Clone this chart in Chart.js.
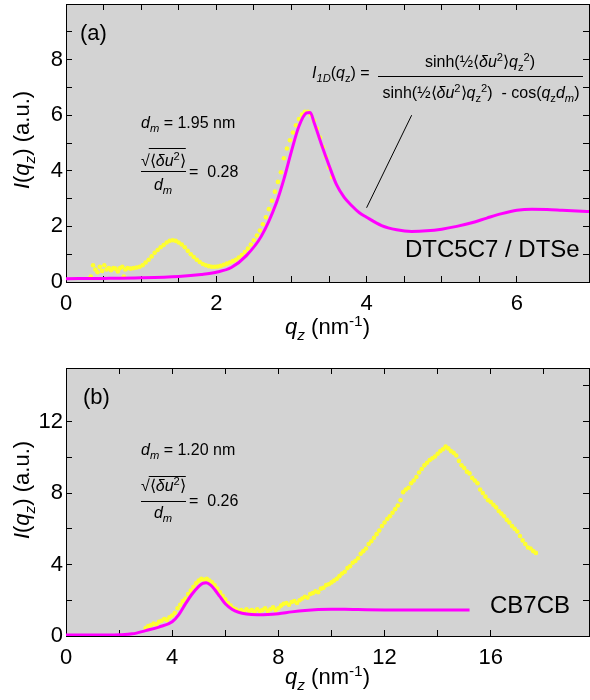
<!DOCTYPE html>
<html><head><meta charset="utf-8">
<script src="https://cdn.jsdelivr.net/npm/chart.js@4.4.0/dist/chart.umd.min.js"></script>
<style>
html,body{margin:0;padding:0;background:#fff;}
canvas{display:block;}
</style></head><body>
<canvas id="ca" width="590" height="350"></canvas>
<canvas id="cb" width="590" height="350"></canvas>
<script>
// ---------- Panel (a) data : DTC5C7 / DTSe ----------
const qA_fit = [0,0.5,1.0,1.5,1.8,2.0,2.2,2.4,2.6,2.8,2.9,3.0,3.1,3.2,3.25,3.3,3.4,3.5,3.6,3.7,3.8,3.9,4.0,4.2,4.4,4.6,4.8,5.0,5.2,5.4,5.6,5.8,6.0,6.2,6.4,6.6,6.8,7.0];
const IA_fit = [0.12,0.13,0.15,0.2,0.27,0.35,0.52,0.95,1.65,2.85,3.7,4.7,5.6,6.08,6.1,5.75,4.95,4.2,3.5,3.05,2.75,2.5,2.33,2.03,1.88,1.82,1.84,1.9,2.0,2.13,2.3,2.46,2.58,2.62,2.61,2.58,2.55,2.53];
const qA_dat = [0.33,0.36,0.39,0.42,0.45,0.48,0.51,0.54,0.57,0.60,0.63,0.66,0.69,0.72,0.75,0.77,0.79,0.82,0.86,0.90,0.94,0.98,1.02,1.06,1.10,1.14,1.18,1.22,1.26,1.30,1.34,1.38,1.42,1.46,1.50,1.54,1.58,1.62,1.66,1.70,1.74,1.78,1.82,1.86,1.90,1.94,1.98,2.02,2.06,2.10,2.14,2.18,2.22,2.26,2.30,2.34,2.38,2.42,2.46,2.50,2.54,2.58,2.62,2.66,2.70,2.74,2.78,2.82,2.86,2.90,2.94,2.98,3.02,3.06,3.10,3.14,3.18,3.22,3.26,3.30,3.34,3.38,3.42,3.46,3.50,3.54];
const IA_dat = [0.2,0.6,0.45,0.35,0.55,0.4,0.6,0.45,0.5,0.42,0.5,0.48,0.38,0.5,0.55,0.2,0.45,0.5,0.48,0.5,0.52,0.55,0.6,0.7,0.8,0.92,1.05,1.15,1.25,1.33,1.42,1.48,1.5,1.48,1.42,1.35,1.25,1.12,1.0,0.9,0.8,0.72,0.65,0.6,0.57,0.55,0.55,0.56,0.58,0.62,0.66,0.7,0.75,0.8,0.88,0.97,1.08,1.2,1.35,1.5,1.67,1.85,2.08,2.33,2.62,2.92,3.25,3.6,3.95,4.45,4.8,5.1,5.38,5.64,5.86,6.02,6.12,6.12,6.0,5.8,5.52,5.2,4.85,4.5,4.12,3.78];
const xTicksA = [0,2,4,6];
const yTicksA = [0,2,4,6,8];

// ---------- Panel (b) data : CB7CB ----------
const qB_fit = [0,1,2,2.5,3.0,3.5,4.0,4.25,4.5,4.75,5.0,5.15,5.28,5.45,5.6,5.8,6.0,6.25,6.5,6.8,7.2,7.6,8.0,8.5,9.0,9.5,10.0,10.5,11,12,13,14,15.2];
const IB_fit = [0.05,0.05,0.07,0.12,0.3,0.5,0.8,1.2,1.8,2.35,2.78,2.95,2.98,2.85,2.6,2.2,1.8,1.5,1.33,1.23,1.19,1.2,1.25,1.35,1.43,1.48,1.5,1.5,1.48,1.46,1.46,1.46,1.46];
const qB_dat = [3.0,3.1,3.2,3.3,3.4,3.5,3.6,3.7,3.8,3.9,4.0,4.1,4.2,4.3,4.4,4.5,4.6,4.7,4.8,4.9,5.0,5.1,5.2,5.3,5.4,5.5,5.6,5.7,5.8,5.9,6.0,6.1,6.2,6.3,6.4,6.5,6.6,6.7,6.8,6.9,7.0,7.1,7.2,7.3,7.4,7.5,7.6,7.7,7.8,7.9,8.0,8.1,8.2,8.3,8.4,8.5,8.6,8.7,8.8,8.9,9.0,9.1,9.2,9.3,9.4,9.5,9.6,9.7,9.8,9.9,10.0,10.1,10.2,10.3,10.4,10.5,10.6,10.7,10.8,10.9,11.0,11.1,11.2,11.3,11.4,11.5,11.6,11.7,11.8,11.9,12.0,12.1,12.2,12.3,12.4,12.5,12.6,12.7,12.8,12.9,13.0,13.1,13.2,13.3,13.4,13.5,13.6,13.7,13.8,13.9,14.0,14.1,14.2,14.3,14.4,14.5,14.6,14.7,14.8,14.9,15.0,15.1,15.2,15.3,15.4,15.5,15.6,15.7,15.8,15.9,16.0,16.1,16.2,16.3,16.4,16.5,16.6,16.7,16.8,16.9,17.0,17.1,17.2,17.3,17.4,17.5,17.6,17.7];
const IB_dat = [0.45,0.55,0.6,0.7,0.65,0.8,0.85,0.95,0.9,1.05,1.15,1.3,1.55,1.75,1.95,2.1,2.35,2.55,2.75,2.95,3.1,3.2,3.15,3.2,3.1,3.0,2.85,2.65,2.45,2.25,2.05,1.85,1.7,1.55,1.5,1.4,1.45,1.35,1.5,1.4,1.45,1.35,1.5,1.4,1.45,1.55,1.4,1.5,1.6,1.45,1.55,1.7,1.8,1.85,1.75,1.9,1.95,1.85,2.0,2.1,2.2,2.15,2.35,2.4,2.5,2.45,2.65,2.7,2.85,2.9,3.0,3.1,3.2,3.35,3.5,3.6,3.8,3.9,4.1,4.2,4.35,4.6,4.75,4.9,5.15,5.3,5.5,5.7,5.9,6.15,6.35,6.55,6.7,6.9,7.1,7.3,7.6,8.05,8.2,8.3,8.55,8.7,8.9,9.15,9.35,9.55,9.7,9.85,9.95,10.05,10.2,10.35,10.45,10.6,10.5,10.35,10.25,10.1,9.8,9.55,9.4,9.2,9.1,8.85,8.7,8.55,8.2,8.0,7.8,7.6,7.5,7.35,7.2,7.0,6.85,6.7,6.5,6.35,6.15,6.0,5.85,5.6,5.35,5.15,4.95,4.9,4.75,4.65];
const xTicksB = [0,4,8,12,16];
const yTicksB = [0,4,8,12];

const FONT = '"Liberation Sans", Arial, Helvetica, sans-serif';
const GRAY = '#d3d3d3', MAGENTA = '#ff00ff', YELLOW = '#ffff2e';

function pts(xs, ys){ return xs.map((x,i)=>({x:x, y:ys[i]})); }

function segFont(s, size){ const sz=(s.sub||s.sup)?size*0.7:size; return (s.it?'italic ':'')+sz+'px '+FONT; }
function richWidth(ctx, segs, size){ let w=0; for(const s of segs){ ctx.font=segFont(s,size); w+=ctx.measureText(s.t).width; } return w; }
function drawRich(ctx, segs, x, y, size, align){
  const w=richWidth(ctx,segs,size);
  let cx = align==='center'? x-w/2 : (align==='right'? x-w : x);
  const x0=cx;
  ctx.textAlign='left'; ctx.textBaseline='alphabetic'; ctx.fillStyle='#000';
  for(const s of segs){ ctx.font=segFont(s,size); const dy=s.sub?size*0.25:(s.sup?-size*0.38:0); ctx.fillText(s.t,cx,y+dy); cx+=ctx.measureText(s.t).width; }
  return {x0:x0, w:w};
}
function seg(ctx,x1,y1,x2,y2){ ctx.beginPath(); ctx.moveTo(x1,y1); ctx.lineTo(x2,y2); ctx.strokeStyle='#000'; ctx.lineWidth=1; ctx.setLineDash([]); ctx.stroke(); }
function hbar(ctx,x1,x2,y){ ctx.fillStyle='#000'; ctx.fillRect(Math.min(x1,x2),y,Math.abs(x2-x1),1); }

const T_X = [{t:'q',it:1},{t:'z',it:1,sub:1},{t:' (nm'},{t:'-1',sup:1},{t:')'}];
const T_Y = [{t:'I',it:1},{t:'('},{t:'q',it:1},{t:'z',it:1,sub:1},{t:') (a.u.)'}];

function drawParams(ctx, dmText, ratioText, yDm, yOver, yNum, yBar, yVal, yDen){
  drawRich(ctx,[{t:'d',it:1},{t:'m',it:1,sub:1},{t:' = '+dmText}],141,yDm,16,'left');
  const r=drawRich(ctx,[{t:'√'},{t:'⟨'},{t:'δu',it:1},{t:'2',sup:1},{t:'⟩'}],141,yNum,16,'left');
  ctx.font='16px '+FONT; const sw=ctx.measureText('√').width;
  hbar(ctx,141+sw-1,r.x0+r.w,yOver);
  hbar(ctx,141,186,yBar);
  drawRich(ctx,[{t:'d',it:1},{t:'m',it:1,sub:1}],163,yDen,16,'center');
  drawRich(ctx,[{t:'=  '+ratioText}],189,yVal,16,'left');
}

function framePlugin(extra){
  return {
    id:'panelframe',
    beforeDraw(chart){
      const a=chart.chartArea, c=chart.ctx;
      c.save(); c.fillStyle=GRAY; c.fillRect(a.left,a.top,a.right-a.left,a.bottom-a.top); c.restore();
    },
    afterDraw(chart){
      const a=chart.chartArea, c=chart.ctx, xs=chart.scales.x, ys=chart.scales.y;
      c.save();
      drawRich(c,T_X,(a.left+a.right)/2,334,22,'center');
      c.save(); c.translate(29,140); c.rotate(-Math.PI/2); drawRich(c,T_Y,0,0,22,'center'); c.restore();
      extra(chart,c,a,xs,ys);
      c.restore();
    }
  };
}

// frame = axis borders on all four sides, with inward tick marks (negative tick length)
const GRID = {display:true,drawOnChartArea:false,drawTicks:true,tickLength:-6,color:'#000',tickColor:'#000',tickWidth:1,lineWidth:1};
const BORDER = {display:true,color:'#000',width:1};

function makeOptions(xmax, ymax, xstep, ystep, xLab, yLab, padTop, xH){
  return {
    responsive:false, animation:false, devicePixelRatio:1,
    layout:{autoPadding:false, padding:{top:padTop,right:1,left:0,bottom:0}},
    plugins:{legend:{display:false}, tooltip:{enabled:false}},
    scales:{
      x:{type:'linear',position:'bottom',min:0,max:xmax,grid:GRID,border:BORDER,
         ticks:{stepSize:xstep,autoSkip:false,maxRotation:0,padding:15,color:'#000',font:{size:22,family:FONT},
                callback:(v)=> xLab.includes(v)? String(v):''},
         afterFit:(s)=>{s.height=xH; s.paddingLeft=0; s.paddingRight=0;}},
      y:{type:'linear',position:'left',min:0,max:ymax,grid:GRID,border:BORDER,
         ticks:{stepSize:ystep,autoSkip:false,padding:9,color:'#000',font:{size:22,family:FONT},
                callback:(v)=> yLab.includes(v)? String(v):''},
         afterFit:(s)=>{s.width=66; s.paddingTop=0; s.paddingBottom=0;}},
      x2:{type:'linear',position:'top',min:0,max:xmax,grid:GRID,border:BORDER,
         ticks:{display:false,stepSize:xstep,autoSkip:false},
         afterFit:(s)=>{s.height=0; s.paddingLeft=0; s.paddingRight=0;}},
      y2:{type:'linear',position:'right',min:0,max:ymax,grid:GRID,border:BORDER,
         ticks:{display:false,stepSize:ystep,autoSkip:false},
         afterFit:(s)=>{s.width=0; s.paddingTop=0; s.paddingBottom=0;}}
    }
  };
}

function datasets(qf,If,qd,Id){
  return [
    {data:pts(qf,If),xAxisID:'x',yAxisID:'y',showLine:true,borderColor:MAGENTA,borderWidth:3,pointRadius:0,cubicInterpolationMode:'monotone',fill:false},
    {data:pts(qd,Id),xAxisID:'x',yAxisID:'y',showLine:false,pointRadius:2.3,pointBackgroundColor:YELLOW,pointBorderColor:YELLOW,pointBorderWidth:0,backgroundColor:YELLOW,borderColor:YELLOW}
  ];
}

new Chart(document.getElementById('ca'),{
  type:'scatter',
  data:{datasets:datasets(qA_fit,IA_fit,qA_dat,IA_dat)},
  options:makeOptions(6.96,10,0.5,1,xTicksA,yTicksA,4,68),
  plugins:[framePlugin((chart,c,a,xs,ys)=>{
    drawRich(c,[{t:'(a)'}],80,40,22,'left');
    drawParams(c,'1.95 nm','0.28',128,148,166,171,177,190);
    drawRich(c,[{t:'I',it:1},{t:'1D',it:1,sub:1},{t:'('},{t:'q',it:1},{t:'z',sub:1},{t:') ='}],312,78,16,'left');
    const num=[{t:'sinh(½⟨'},{t:'δu',it:1},{t:'2',sup:1},{t:'⟩'},{t:'q',it:1},{t:'z',sub:1},{t:'2',sup:1},{t:')'}];
    drawRich(c,num,480,67,16,'center');
    hbar(c,378,583,76);
    drawRich(c,num.concat([{t:'  - cos('},{t:'q',it:1},{t:'z',sub:1},{t:'d',it:1},{t:'m',it:1,sub:1},{t:')'}]),481,98,16,'center');
    seg(c,xs.getPixelForValue(4.0),ys.getPixelForValue(2.67),xs.getPixelForValue(4.6),ys.getPixelForValue(6.0));
    c.font='24px '+FONT; c.fillStyle='#000'; c.textAlign='left'; c.textBaseline='alphabetic';
    c.fillText('DTC5C7 / DTSe',405,257);
  })]
});

new Chart(document.getElementById('cb'),{
  type:'scatter',
  data:{datasets:datasets(qB_fit,IB_fit,qB_dat,IB_dat)},
  options:makeOptions(19.7,15,2,2,xTicksB,yTicksB,18,64),
  plugins:[framePlugin((chart,c,a,xs,ys)=>{
    drawRich(c,[{t:'(b)'}],83,54,22,'left');
    drawParams(c,'1.20 nm','0.26',105,126,141,151,156,168);
    c.font='24px '+FONT; c.fillStyle='#000'; c.textAlign='left'; c.textBaseline='alphabetic';
    c.fillText('CB7CB',490,263);
  })]
});
</script></body></html>
